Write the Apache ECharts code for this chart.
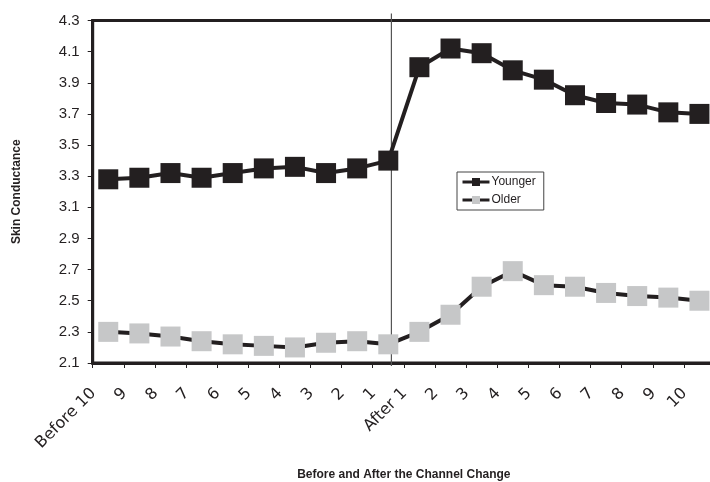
<!DOCTYPE html>
<html>
<head>
<meta charset="utf-8">
<script src="https://cdn.jsdelivr.net/npm/echarts@6/dist/echarts.min.js"></script>
<style>
  html, body { margin: 0; padding: 0; background: #fff; }
  #chart { width: 710px; height: 482px; }
</style>
</head>
<body>
<div id="chart"></div>
<script>
// Time points around the channel change
const categories = ['Before 10', '9', '8', '7', '6', '5', '4', '3', '2', '1',
                    'After 1', '2', '3', '4', '5', '6', '7', '8', '9', '10'];

// Mean skin conductance per group
const younger = [3.28, 3.29, 3.32, 3.29, 3.32, 3.35, 3.36, 3.32, 3.35, 3.40,
                 4.00, 4.12, 4.09, 3.98, 3.92, 3.82, 3.77, 3.76, 3.71, 3.70];
const older = [2.30, 2.29, 2.27, 2.24, 2.22, 2.21, 2.20, 2.23, 2.24, 2.22,
               2.30, 2.41, 2.59, 2.69, 2.60, 2.59, 2.55, 2.53, 2.52, 2.50];

// Position of the channel change marker, in category units from the left edge
const changePoint = 9.6;
const changeLineY = [2.08, 4.345];

const yMin = 2.1, yMax = 4.3, yStep = 0.2;

const ink = '#231f20';
const grey = '#c6c7c8';

const chart = echarts.init(document.getElementById('chart'), null, { renderer: 'canvas' });

chart.setOption({
  animation: false,
  backgroundColor: '#fff',
  grid: {
    left: 92.7, top: 20.5, width: 622.3, height: 342.5,
    outerBoundsMode: 'none',
    containLabel: false,
    show: true, borderColor: ink, borderWidth: 3, backgroundColor: 'transparent'
  },
  legend: {
    orient: 'vertical',
    left: 457, top: 172,
    data: [
      { name: 'Younger', itemStyle: { color: ink }, lineStyle: { color: ink, width: 3 } },
      { name: 'Older', itemStyle: { color: grey }, lineStyle: { color: ink, width: 3 } }
    ],
    itemWidth: 27, itemHeight: 10, itemGap: 6,
    padding: [4, 8, 4, 4],
    borderColor: '#444', borderWidth: 1,
    textStyle: { fontFamily: 'Liberation Sans', fontSize: 12, color: ink, padding: [0, 0, 0, -3] }
  },
  xAxis: [{
    type: 'category',
    data: categories,
    boundaryGap: true,
    name: 'Before and After the Channel Change',
    nameLocation: 'middle',
    nameGap: 106,
    nameTextStyle: { fontFamily: 'Liberation Sans', fontWeight: 'bold', fontSize: 12, color: ink },
    axisLine: { lineStyle: { color: ink, width: 3 } },
    axisTick: { show: true, length: 5, lineStyle: { color: ink, width: 1 } },
    axisLabel: {
      rotate: 45, margin: 13, interval: 0,
      fontFamily: 'DejaVu Sans', fontSize: 16, color: ink,
      padding: [0, 21, 0, 0]
    },
    splitLine: { show: false }
  }, {
    // hidden continuous axis used to place the change marker between points
    type: 'value', min: 0, max: categories.length, show: false, position: 'bottom'
  }],
  yAxis: {
    type: 'value',
    min: yMin, max: yMax, interval: yStep,
    name: 'Skin Conductance',
    nameLocation: 'middle',
    nameRotate: 90,
    nameGap: 70,
    nameTextStyle: { fontFamily: 'Liberation Sans', fontWeight: 'bold', fontSize: 12, color: ink },
    axisLine: { show: true, lineStyle: { color: ink, width: 3 } },
    axisTick: { show: true, length: 5, lineStyle: { color: ink, width: 1 } },
    axisLabel: {
      margin: 13, fontFamily: 'Liberation Sans', fontSize: 15, color: ink,
      formatter: v => v.toFixed(1)
    },
    splitLine: { show: false }
  },
  series: [{
    name: 'changeMarker',
    type: 'line',
    xAxisIndex: 1,
    data: changeLineY.map(y => [changePoint, y]),
    symbol: 'none',
    clip: false,
    lineStyle: { color: '#555', width: 1.2 },
    silent: true,
    z: 1
  }, {
    name: 'Younger',
    type: 'line',
    data: younger,
    symbol: 'rect',
    symbolSize: 20,
    clip: false,
    itemStyle: { color: ink },
    lineStyle: { color: ink, width: 4 },
    z: 3
  }, {
    name: 'Older',
    type: 'line',
    data: older,
    symbol: 'rect',
    symbolSize: 20,
    clip: false,
    itemStyle: { color: grey },
    lineStyle: { color: ink, width: 4 },
    z: 3
  }]
});
</script>
</body>
</html>
